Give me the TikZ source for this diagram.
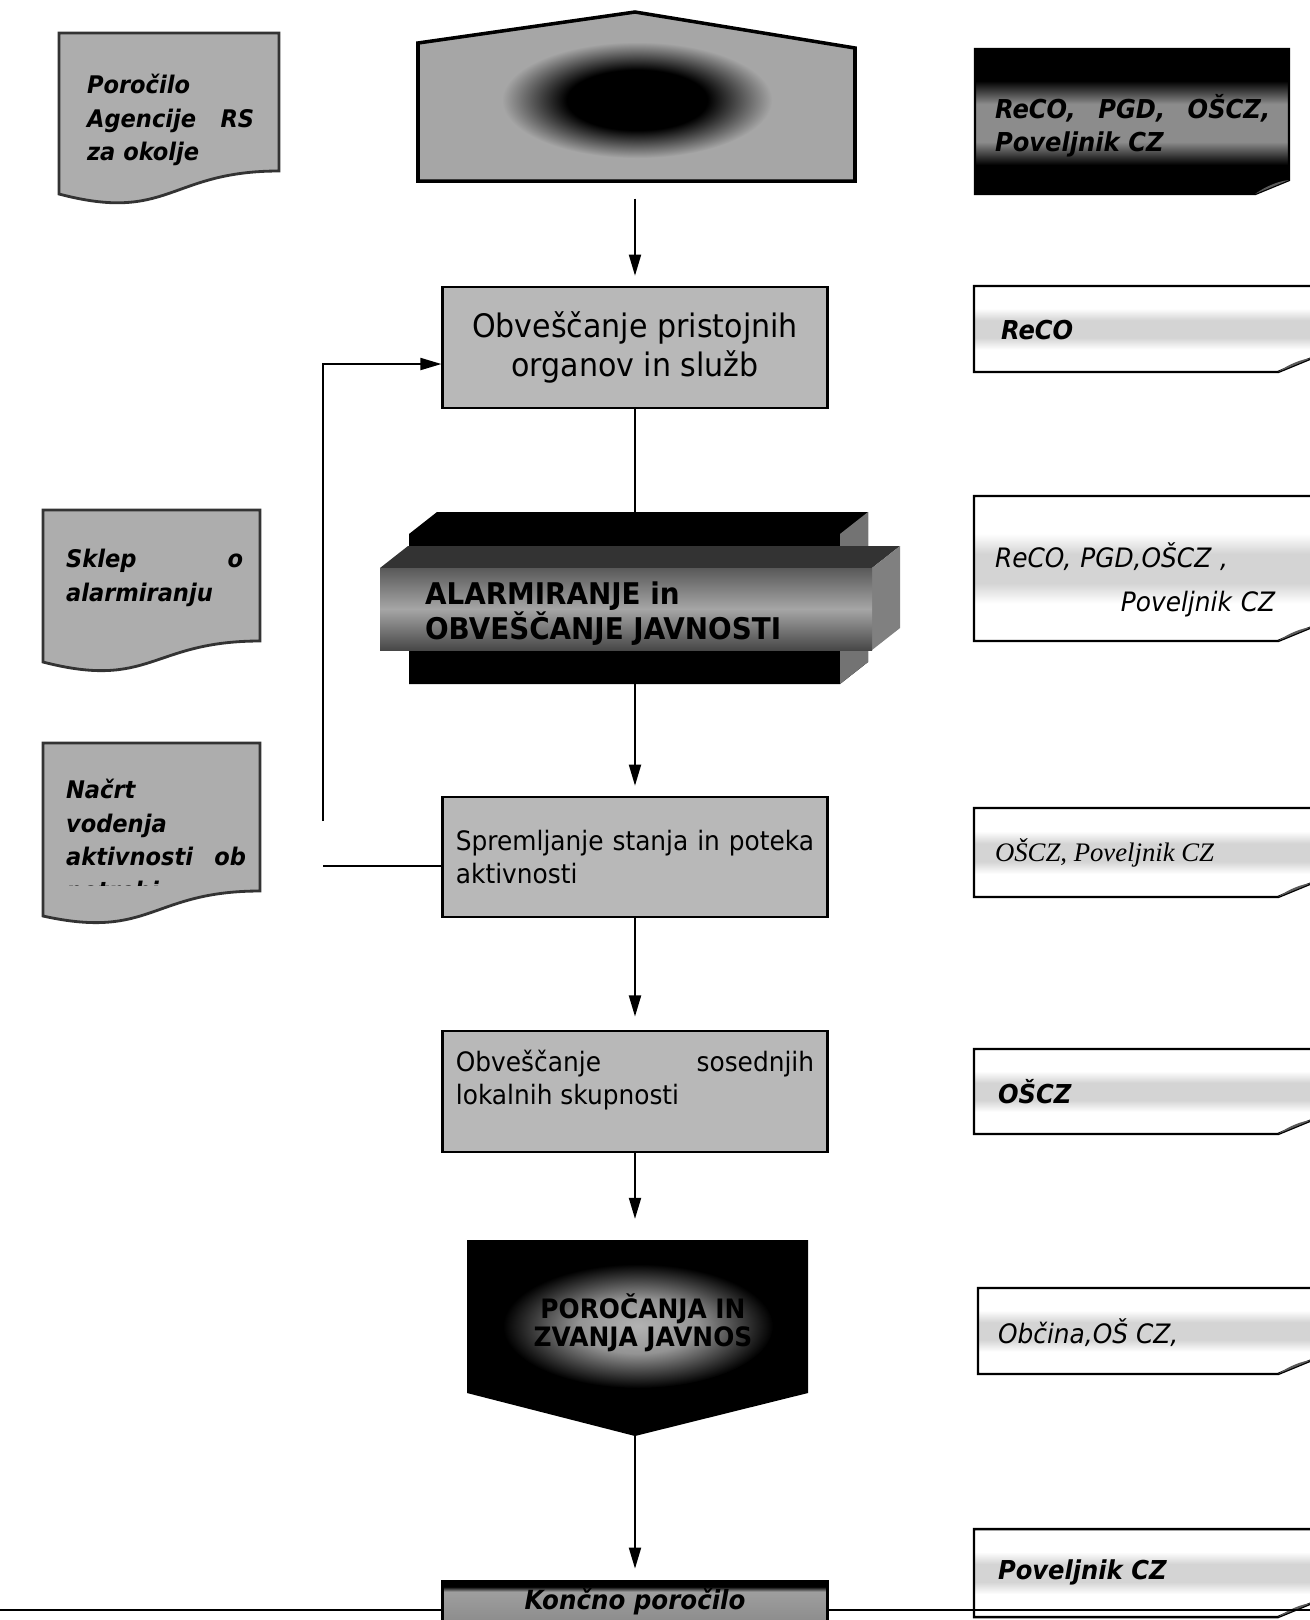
\documentclass[tikz,border=0pt]{standalone}
\usepackage{fontspec}
\setmainfont[FakeStretch=0.93]{DejaVu Sans}
\newfontfamily\timesfont{Liberation Serif}
\usetikzlibrary{arrows.meta, positioning}

% shadings used by the boxes
\pgfdeclareverticalshading{darkband}{100bp}{color(0bp)=(black); color(35bp)=(black); color(43bp)=(black!45); color(56bp)=(black!45); color(64bp)=(black); color(100bp)=(black)}
\pgfdeclareverticalshading{lightband}{100bp}{color(0bp)=(white); color(38bp)=(white); color(45bp)=(black!17); color(55bp)=(black!17); color(62bp)=(white); color(100bp)=(white)}
\pgfdeclareverticalshading{endband}{100bp}{color(0bp)=(black!45); color(25bp)=(black!45); color(62bp)=(black!38); color(68bp)=(black); color(100bp)=(black)}
\pgfdeclareradialshading{darkcore}{\pgfpoint{0bp}{0bp}}{color(0bp)=(black); color(13bp)=(black); color(25bp)=(black!35); color(50bp)=(black!35)}
\pgfdeclareradialshading{glow}{\pgfpoint{0bp}{0bp}}{color(0bp)=(black!30); color(11bp)=(black!42); color(25bp)=(black); color(50bp)=(black)}

\begin{document}
\begin{tikzpicture}[
    x=0.01cm, y=-0.01cm,
    line width=0.6pt,
    proc/.style={rectangle, draw, line width=0.8pt, fill=black!28, minimum width=3.84cm, minimum height=1.2cm, inner sep=0pt},
    docbox/.style={draw=black!80, line width=0.8pt, fill=black!32},
    doctext/.style={anchor=north west, inner sep=0pt, align=justify, font=\fontsize{6.9}{9.6}\selectfont\bfseries\itshape},
    resp/.style={draw, line width=0.7pt, shading=lightband},
    fold/.style={fill=black!65},
    who/.style={anchor=west, inner sep=0pt, font=\fontsize{7.4}{9.4}\selectfont\bfseries\itshape},
    arr/.style={-{Triangle[length=6pt, width=3.4pt]}}
]
    \useasboundingbox (0,0) rectangle (1310,1620);
    \clip (0,0) rectangle (1310,1620);
    \fill[white] (0,0) rectangle (1310,1620);

    % Documents on the left
    \filldraw[docbox] (59,33) -- (279,33) -- (279,171) .. controls (169,171) and (169,223) .. (59,194) -- cycle;
    \node[doctext, text width=1.67cm] (doc1) at (86,73) {Poročilo\\Agencije~RS\linebreak za~okolje};
    \filldraw[docbox] (43,510) -- (260,510) -- (260,641) .. controls (151,641) and (151,690) .. (43,662) -- cycle;
    \node[doctext, text width=1.77cm] (doc2) at (65,548) {Sklep~o\linebreak alarmiranju};
    \filldraw[docbox] (43,743) -- (260,743) -- (260,891) .. controls (151,891) and (151,940) .. (43,916) -- cycle;
    \begin{scope}
        \clip (43,743) rectangle (260,885);
        \node[doctext, text width=1.8cm] (doc3) at (65,778) {Načrt\\vodenja\\aktivnosti~ob\linebreak potrebi};
    \end{scope}

    % Top shape
    \filldraw[fill=black!35, line width=1pt] (418,43) -- (635,12) -- (855,48) -- (855,181) -- (418,181) -- cycle;
    \shade[shading=darkcore] (637,100) ellipse [x radius=1.35cm, y radius=0.58cm];
    \coordinate (t0) at (635,181);

    % Responsible parties on the right
    \shadedraw[resp, shading=darkband] (975,49) -- (1289,49) -- (1289,180) -- (1255,194) -- (975,194) -- cycle;
    \fill[fold] (1255,194) -- (1289,180) .. controls (1279,181) and (1266,186) .. cycle;
    \node[who, text width=2.75cm, align=justify] (r1) at (994,126) {ReCO,~PGD,~OŠCZ,\linebreak Poveljnik~CZ};

    \shadedraw[resp] (974,286) -- (1312,286) -- (1312,358) -- (1278,372) -- (974,372) -- cycle;
    \fill[fold] (1278,372) -- (1312,358) .. controls (1302,359) and (1289,364) .. cycle;
    \node[who] (r2) at (1000,330) {ReCO};

    \shadedraw[resp] (974,496) -- (1312,496) -- (1312,627) -- (1278,641) -- (974,641) -- cycle;
    \fill[fold] (1278,641) -- (1312,627) .. controls (1302,628) and (1289,633) .. cycle;
    \node[who, font=\fontsize{7.6}{12.5}\selectfont\itshape, text width=2.8cm, align=left] (r3) at (994,580) {ReCO, PGD,OŠCZ ,\\\hspace*{\fill}Poveljnik CZ};

    \shadedraw[resp] (974,808) -- (1312,808) -- (1312,883) -- (1278,897) -- (974,897) -- cycle;
    \fill[fold] (1278,897) -- (1312,883) .. controls (1302,884) and (1289,889) .. cycle;
    \node[who, font=\timesfont\fontsize{7.6}{9}\selectfont\itshape] (r4) at (994,853) {OŠCZ, Poveljnik CZ};

    \shadedraw[resp] (974,1049) -- (1312,1049) -- (1312,1120) -- (1278,1134) -- (974,1134) -- cycle;
    \fill[fold] (1278,1134) -- (1312,1120) .. controls (1302,1121) and (1289,1126) .. cycle;
    \node[who] (r5) at (997,1092) {OŠCZ};

    \shadedraw[resp] (978,1288) -- (1312,1288) -- (1312,1360) -- (1278,1374) -- (978,1374) -- cycle;
    \fill[fold] (1278,1374) -- (1312,1360) .. controls (1302,1361) and (1289,1366) .. cycle;
    \node[who, font=\fontsize{7.6}{9}\selectfont\itshape] (r6) at (997,1333) {Občina,OŠ CZ,};

    \shadedraw[resp] (974,1529) -- (1312,1529) -- (1312,1603) -- (1278,1617) -- (974,1617) -- cycle;
    \fill[fold] (1278,1617) -- (1312,1603) .. controls (1302,1604) and (1289,1609) .. cycle;
    \node[who] (r7) at (997,1572) {Poveljnik CZ};

    % Main column
    \node[proc, minimum height=1.21cm, align=center, font=\fontsize{9.2}{11}\selectfont] (b2) at (635,347.5) {Obveščanje pristojnih\\organov in služb};

    % 3D block for alarming
    \fill[black] (409,534) -- (437,512) -- (868,512) -- (868,662) -- (840,684) -- (409,684) -- cycle;
    \fill[black!55] (840,534) -- (868,512) -- (868,662) -- (840,684) -- cycle;
    \fill[black!80] (380,568) -- (408,546) -- (900,546) -- (872,568) -- cycle;
    \fill[black!50] (872,568) -- (900,546) -- (900,628) -- (872,650) -- cycle;
    \shade[top color=black!65, bottom color=black!72, middle color=black!35] (380,568) rectangle (872,650);
    \coordinate (b3top) at (635,512);
    \coordinate (b3bot) at (635,684);
    \node[anchor=west, inner sep=0pt, align=left, font=\fontsize{8.5}{9.9}\selectfont\bfseries] (b3) at (424,614) {ALARMIRANJE in\\OBVEŠČANJE JAVNOSTI};

    \node[proc, text width=3.58cm, align=justify, font=\fontsize{7.6}{9.4}\selectfont] (b4) at (635,857) {Spremljanje~stanja~in~poteka\linebreak aktivnosti};
    \node[proc, minimum height=1.21cm] (b5) at (635,1091.5) {};
    \node[inner sep=0pt, text width=3.58cm, align=justify, font=\fontsize{7.6}{9.4}\selectfont] (b5t) at (635,1080) {Obveščanje~sosednjih\linebreak lokalnih~skupnosti};

    % Black pentagon for reporting
    \fill[black] (467,1240) -- (808,1240) -- (808,1393) -- (635,1436) -- (467,1393) -- cycle;
    \shade[shading=glow] (638,1326) ellipse [x radius=1.35cm, y radius=0.62cm];
    \coordinate (b6top) at (635,1240);
    \coordinate (b6tip) at (635,1436);
    \node[inner sep=0pt, align=center, font=\fontsize{7.6}{8}\selectfont\bfseries] (b6) at (643,1323) {POROČANJA IN\\ZVANJA JAVNOS};

    % Bottom rule and final report
    \coordinate (bl) at (0,1610);
    \coordinate (br) at (1310,1610);
    \draw (bl) -- (br);
    \node[proc, shade, shading=endband, minimum height=0.41cm] (b7) at (635,1601.5) {};
    \node[inner sep=0pt, font=\fontsize{7.5}{8}\selectfont\bfseries\itshape] (b7t) at (635,1602) {Končno poročilo};

    % Connectors
    \draw[arr, shorten <=5pt, shorten >=2.8pt] (t0) -- (b2);
    \draw (b2) -- (b3top);
    \draw[arr, shorten >=2.8pt] (b3bot) -- (b4);
    \draw[arr, shorten >=3.7pt] (b4) -- (b5);
    \draw[arr, shorten >=6pt] (b5) -- (b6top);
    \draw[arr, shorten >=3.1pt] (b6tip) -- (b7);

    % Feedback from monitoring back to notification
    \coordinate (fbtop) at (323,821);
    \coordinate (fbbot) at (323,866);
    \draw[arr] (fbtop) |- ([yshift=-0.165cm]b2.west);
    \draw (fbbot) -- (fbbot -| b4.west);

\end{tikzpicture}
\end{document}
